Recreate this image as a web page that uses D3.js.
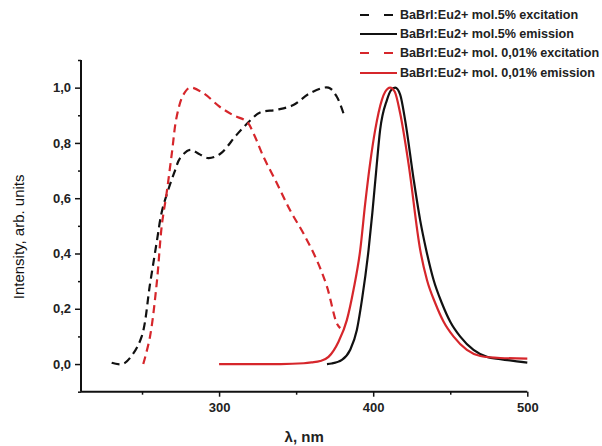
<!DOCTYPE html>
<html>
<head>
<meta charset="utf-8">
<script src="https://cdn.jsdelivr.net/npm/d3@7"></script>
<style>
  html, body { margin: 0; padding: 0; background: #fff; }
  svg { display: block; }
  text { font-family: "Liberation Sans", Arial, sans-serif; }
</style>
</head>
<body>
<svg id="chart" width="602" height="446"></svg>
<script>
// ---- data ----
const xTicksMajor = [300, 400, 500];
const xTicksMinor = [250, 350, 450];
const yTicksMajor = [0, 0.2, 0.4, 0.6, 0.8, 1.0];
const yTicksMinor = [-0.1, 0.1, 0.3, 0.5, 0.7, 0.9, 1.1];

const seriesNames = [
  "BaBrI:Eu2+ mol.5% excitation",
  "BaBrI:Eu2+ mol.5% emission",
  "BaBrI:Eu2+ mol. 0,01% excitation",
  "BaBrI:Eu2+ mol. 0,01% emission"
];

const exc5_x = [230.3, 237.5, 243.3, 249.8, 255.2, 259.5, 262.8, 267, 271.4, 274.7, 281.2, 287, 293, 300.6, 311.5, 320, 326.6, 337.5, 348.2, 359, 371, 376.4, 380.7];
const exc5_y = [0.005, 0.0, 0.03, 0.10, 0.29, 0.44, 0.55, 0.63, 0.70, 0.745, 0.775, 0.76, 0.745, 0.76, 0.83, 0.88, 0.91, 0.92, 0.937, 0.98, 1.0, 0.967, 0.907];

const em5_x = [370, 373, 379.7, 385, 389.4, 392.7, 397, 399.5, 401.8, 404.5, 408.9, 411.5, 414.3, 417.5, 420.8, 426.2, 430.5, 434.4, 439.2, 444.6, 450, 456.5, 465.1, 473.8, 482.5, 500];
const em5_y = [0.0, 0.002, 0.015, 0.051, 0.123, 0.232, 0.413, 0.55, 0.69, 0.847, 0.955, 0.99, 1.0, 0.975, 0.88, 0.67, 0.52, 0.413, 0.304, 0.22, 0.153, 0.099, 0.051, 0.026, 0.018, 0.005];

const exc001_x = [250.8, 255.2, 259.5, 262.8, 266, 269.3, 272.5, 276.8, 281.2, 289.8, 300.6, 309.3, 318, 322.3, 328.8, 337.5, 346, 354.7, 363.4, 370, 376.4, 378.6];
const exc001_y = [0.0, 0.10, 0.29, 0.50, 0.62, 0.76, 0.895, 0.974, 1.0, 0.98, 0.93, 0.90, 0.877, 0.835, 0.75, 0.654, 0.557, 0.473, 0.376, 0.28, 0.147, 0.13];

const em001_x = [300, 340, 355, 360, 365.6, 371, 377.5, 382.9, 387.2, 391.6, 394.8, 398, 401.3, 405.6, 407.8, 411, 414, 417.5, 422.9, 430.5, 434.9, 440.3, 445.7, 452.2, 460.8, 469.5, 482.5, 500];
const em001_y = [0, 0, 0.003, 0.006, 0.011, 0.026, 0.081, 0.159, 0.268, 0.413, 0.58, 0.726, 0.847, 0.955, 0.985, 1.0, 0.985, 0.907, 0.726, 0.413, 0.304, 0.22, 0.153, 0.099, 0.051, 0.029, 0.022, 0.02];

// ---- chart ----
const svg = d3.select("#chart");
const BLACK = "#111111", RED = "#d6262b";

const x = d3.scaleLinear().domain([210.4, 500]).range([81, 527.3]);
const y = d3.scaleLinear().domain([-0.1, 1.1]).range([391.7, 60]);

const zip = (xs, ys) => xs.map((v, i) => [v, ys[i]]);
const series = [
  { name: seriesNames[0], data: zip(exc5_x, exc5_y), color: BLACK, dash: "8,5", curve: d3.curveCatmullRom.alpha(0.5) },
  { name: seriesNames[1], data: zip(em5_x, em5_y), color: BLACK, dash: null, curve: d3.curveMonotoneX },
  { name: seriesNames[2], data: zip(exc001_x, exc001_y), color: RED, dash: "8,5", curve: d3.curveCatmullRom.alpha(0.5) },
  { name: seriesNames[3], data: zip(em001_x, em001_y), color: RED, dash: null, curve: d3.curveMonotoneX }
];

const line = d3.line().x(d => x(d[0])).y(d => y(d[1]));

const gLines = svg.append("g");
[1, 0, 2, 3].forEach(i => {
  const s = series[i];
  gLines.append("path")
    .attr("d", line.curve(s.curve)(s.data))
    .attr("fill", "none")
    .attr("stroke", s.color)
    .attr("stroke-width", 2.2)
    .attr("stroke-dasharray", s.dash)
    .attr("stroke-linejoin", "round");
});

// axes
const xAxis = svg.append("g").attr("transform", `translate(0,${y(-0.1)})`)
  .call(d3.axisBottom(x).tickValues(xTicksMajor).tickSize(5).tickPadding(6).tickFormat(d3.format("d")));
svg.append("g").attr("transform", `translate(0,${y(-0.1)})`)
  .call(d3.axisBottom(x).tickValues(xTicksMinor).tickSize(3).tickFormat(""))
  .call(g => g.select(".domain").remove());

const fmtY = d => d3.format(".1f")(d).replace(".", ",");
const yAxis = svg.append("g").attr("transform", `translate(${x(210.4)},0)`)
  .call(d3.axisLeft(y).tickValues(yTicksMajor).tickSize(6).tickPadding(4).tickFormat(fmtY));
svg.append("g").attr("transform", `translate(${x(210.4)},0)`)
  .call(d3.axisLeft(y).tickValues(yTicksMinor).tickSize(3).tickFormat(""))
  .call(g => g.select(".domain").remove());

svg.selectAll(".domain").attr("stroke", BLACK).attr("stroke-width", 2);
xAxis.select(".domain").attr("d", `M${x(210.4)},0H${x(500)}`);
yAxis.select(".domain").attr("d", `M0,${y(-0.1)}V${y(1.1)}`);

svg.selectAll(".tick line").attr("stroke", BLACK).attr("stroke-width", 1.5);
svg.selectAll(".tick text")
  .attr("font-family", "Liberation Sans, Arial, sans-serif")
  .attr("font-size", 13).attr("font-weight", "bold").attr("fill", "#222");

// axis titles
svg.append("text")
  .attr("transform", `translate(24,${(y(-0.1) + y(1.1)) / 2 + 11}) rotate(-90)`)
  .attr("text-anchor", "middle")
  .attr("font-size", 15).attr("fill", "#111")
  .text("Intensity, arb. units");

svg.append("text")
  .attr("x", (x(210.4) + x(500)) / 2).attr("y", 442)
  .attr("text-anchor", "middle")
  .attr("font-size", 15).attr("font-weight", "bold").attr("fill", "#222")
  .text("λ, nm");

// legend
const legY = [15, 34, 53, 73];
const leg = svg.append("g");
series.forEach((s, i) => {
  leg.append("line")
    .attr("x1", 360).attr("x2", 397).attr("y1", legY[i]).attr("y2", legY[i])
    .attr("stroke", s.color).attr("stroke-width", 2)
    .attr("stroke-dasharray", s.dash ? "9,15" : null);
  leg.append("text")
    .attr("x", 400).attr("y", legY[i]).attr("dy", "0.35em")
    .attr("font-size", 12.6).attr("font-weight", "bold").attr("fill", "#222")
    .text(s.name);
});
</script>
</body>
</html>
